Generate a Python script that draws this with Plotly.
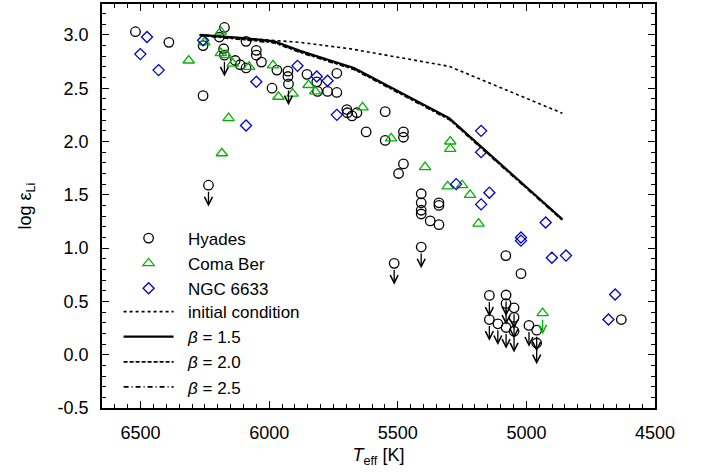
import plotly.graph_objects as go

# ---------------- data ----------------
hyades_teff = [6520, 6390, 6257, 6257, 6194, 6174, 6177, 6174, 6132, 6113, 6090, 6090,
               6050, 6050, 6030, 5989, 5970, 5927, 5927, 5925, 5853, 5815, 5737, 5773,
               5812, 5737, 5698, 5696, 5678, 5659, 5549, 5623, 5549, 5478, 5478, 5478,
               5497, 5409, 5409, 5409, 5409, 5374, 5340, 5340, 5340, 5409, 5514, 5080,
               5021, 4631, 5144, 5144, 5111, 5079, 5079, 5079, 5048, 5048, 5048, 4990,
               4960, 4960, 6236]
hyades_li = [3.03, 2.93, 2.90, 2.43, 2.98, 3.07, 2.87, 2.81, 2.76, 2.72, 2.69, 2.94,
             2.855, 2.81, 2.745, 2.50, 2.67, 2.66, 2.61, 2.54, 2.63, 2.56, 2.64, 2.47,
             2.47, 2.46, 2.30, 2.27, 2.24, 2.27, 2.28, 2.09, 2.01, 2.09, 2.04, 1.79,
             1.70, 1.51, 1.425, 1.355, 1.32, 1.255, 1.22, 1.425, 1.40, 1.01, 0.857, 0.93,
             0.76, 0.33, 0.556, 0.33, 0.29, 0.56, 0.48, 0.255, 0.44, 0.35, 0.22, 0.275,
             0.23, 0.11, 1.59]
hyades_ul = [0, 0, 0, 0, 0, 0, 0, 1, 0, 0, 0, 0,
             0, 0, 0, 0, 0, 0, 0, 1, 0, 0, 0, 0,
             0, 0, 0, 0, 0, 0, 0, 0, 0, 0, 0, 0,
             0, 0, 0, 0, 0, 0, 0, 0, 0, 1, 1, 0,
             0, 0, 1, 1, 1, 1, 1, 1, 1, 1, 1, 1,
             1, 1, 1]

coma_teff = [6313, 6252, 6188, 6188, 6167, 6142, 6078, 5985, 5964, 5909, 5847, 5821,
             6158, 6184, 5637, 5526, 5394, 5296, 5296, 5306, 5250, 5219, 5186, 4937]
coma_li = [2.76, 2.93, 3.03, 2.83, 2.81, 2.73, 2.70, 2.715, 2.42, 2.45, 2.53, 2.47,
           2.22, 1.89, 2.32, 2.03, 1.76, 2.00, 1.93, 1.58, 1.59, 1.50, 1.23, 0.39]
coma_ul = [0, 0, 0, 0, 0, 0, 0, 0, 0, 0, 0, 0,
           0, 0, 0, 0, 0, 0, 0, 0, 0, 0, 0, 1]

ngc_teff = [6475, 6501, 6430, 6257, 6050, 6090, 5890, 5815, 5773, 5737, 5273, 5176,
            5176, 5144, 5176, 4925, 5021, 5021, 4901, 4846, 4655, 4681]
ngc_li = [2.98, 2.82, 2.67, 2.95, 2.56, 2.15, 2.71, 2.61, 2.57, 2.25, 1.60, 2.10,
          1.90, 1.52, 1.41, 1.24, 1.10, 1.07, 0.91, 0.93, 0.565, 0.33]

init_teff = [6270, 5880, 5685, 5300, 4860]
init_li = [3.00, 2.93, 2.87, 2.705, 2.265]

b15_teff = [6270, 6100, 5980, 5880, 5750, 5670, 5300, 4860]
b15_li = [3.00, 2.97, 2.94, 2.85, 2.75, 2.69, 2.22, 1.27]
b20_teff = [6270, 6100, 5980, 5880, 5750, 5670, 5300, 4860]
b20_li = [3.00, 2.96, 2.93, 2.84, 2.74, 2.68, 2.21, 1.265]
b25_teff = [6270, 6100, 5980, 5880, 5750, 5670, 5300, 4860]
b25_li = [2.995, 2.955, 2.925, 2.835, 2.735, 2.675, 2.205, 1.26]

ul_len = 0.2

x_tickvals = [6500, 6000, 5500, 5000, 4500]
x_ticktext = ["6500", "6000", "5500", "5000", "4500"]
y_tickvals = [-0.5, 0.0, 0.5, 1.0, 1.5, 2.0, 2.5, 3.0]
y_ticktext = ["-0.5", "0.0", "0.5", "1.0", "1.5", "2.0", "2.5", "3.0"]

# ---------------- figure ----------------
FONT = "Liberation Sans, Arial, Helvetica, sans-serif"
GREEN = "#00b400"
BLUE = "#0000c8"
PAD = "\u00a0\u00a0"

fig = go.Figure()

fig.add_trace(go.Scatter(x=hyades_teff, y=hyades_li, mode="markers", name=PAD + "Hyades",
                         legend="legend",
                         marker=dict(symbol="circle-open", size=9.5, color="black",
                                     line=dict(width=1.3, color="black"))))
fig.add_trace(go.Scatter(x=coma_teff, y=coma_li, mode="markers", name=PAD + "Coma Ber",
                         legend="legend",
                         marker=dict(symbol="triangle-up-open", size=10, color=GREEN,
                                     line=dict(width=1.3, color=GREEN))))
fig.add_trace(go.Scatter(x=ngc_teff, y=ngc_li, mode="markers", name=PAD + "NGC 6633",
                         legend="legend",
                         marker=dict(symbol="diamond-open", size=8.5, color=BLUE,
                                     line=dict(width=1.3, color=BLUE))))
fig.add_trace(go.Scatter(x=init_teff, y=init_li, mode="lines", name=PAD + "initial condition",
                         legend="legend2",
                         line=dict(color="black", width=1.6, dash="dot")))
fig.add_trace(go.Scatter(x=b15_teff, y=b15_li, mode="lines", name=PAD + "<i>β</i> = 1.5",
                         legend="legend2",
                         line=dict(color="black", width=2.2, dash="solid")))
fig.add_trace(go.Scatter(x=b20_teff, y=b20_li, mode="lines", name=PAD + "<i>β</i> = 2.0",
                         legend="legend2",
                         line=dict(color="black", width=1.8, dash="4px,2px")))
fig.add_trace(go.Scatter(x=b25_teff, y=b25_li, mode="lines", name=PAD + "<i>β</i> = 2.5",
                         legend="legend2",
                         line=dict(color="black", width=1.6, dash="5px,3px,1px,3px")))

annotations = []
for t, v, u in zip(hyades_teff, hyades_li, hyades_ul):
    if u:
        annotations.append(dict(x=t, y=v - ul_len, ax=t, ay=v, xref="x", yref="y",
                                axref="x", ayref="y", showarrow=True, arrowhead=5,
                                arrowsize=1.2, arrowwidth=1.3, arrowcolor="black",
                                startstandoff=5, text=""))
for t, v, u in zip(coma_teff, coma_li, coma_ul):
    if u:
        annotations.append(dict(x=t, y=v - ul_len, ax=t, ay=v, xref="x", yref="y",
                                axref="x", ayref="y", showarrow=True, arrowhead=5,
                                arrowsize=1.2, arrowwidth=1.3, arrowcolor=GREEN,
                                startstandoff=5, text=""))

axis_common = dict(showline=True, linewidth=1.5, linecolor="black", mirror="ticks",
                   ticks="inside", ticklen=7, tickwidth=1.3, tickcolor="black",
                   showgrid=False, zeroline=False,
                   tickfont=dict(family=FONT, size=18, color="black"))

legend_common = dict(xanchor="left", yanchor="top", bgcolor="rgba(0,0,0,0)", borderwidth=0,
                     font=dict(family=FONT, size=17, color="black"),
                     itemwidth=50, tracegroupgap=0)

fig.update_layout(
    width=711, height=472,
    margin=dict(l=102, r=56, t=2, b=64),
    paper_bgcolor="white", plot_bgcolor="white",
    font=dict(family=FONT, size=18, color="black"),
    showlegend=True,
    legend=dict(x=0.03, y=0.464, **legend_common),
    legend2=dict(x=0.03, y=0.282, **legend_common),
    annotations=annotations,
    xaxis=dict(range=[6650, 4500], tickvals=x_tickvals, ticktext=x_ticktext,
               minor=dict(ticks="inside", ticklen=4, tickwidth=1, dtick=50, tickcolor="black"),
               ticklabelstandoff=8,
               title=dict(text="<i>T</i><sub>eff</sub> [K]", font=dict(family=FONT, size=18),
                          standoff=6),
               **axis_common),
    yaxis=dict(range=[-0.5, 3.29], tickvals=y_tickvals, ticktext=y_ticktext,
               minor=dict(ticks="inside", ticklen=4, tickwidth=1, dtick=0.1, tickcolor="black"),
               ticklabelstandoff=8,
               title=dict(text="log ε<sub>Li</sub>", font=dict(family=FONT, size=18),
                          standoff=21),
               **axis_common),
)

fig.write_html("out.html", config={"displayModeBar": False},
               post_script="document.body.style.margin='0px';")
